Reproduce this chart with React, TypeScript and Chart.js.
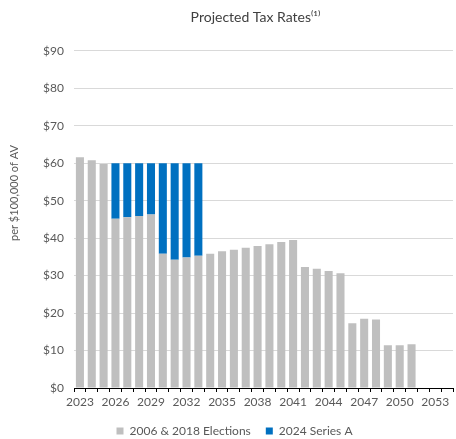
import React, { useEffect, useRef } from "react";
import { Chart, registerables } from "chart.js";

Chart.register(...registerables);

const years: string[] = [
  "2023", "2024", "2025", "2026", "2027", "2028", "2029", "2030", "2031", "2032",
  "2033", "2034", "2035", "2036", "2037", "2038", "2039", "2040", "2041", "2042",
  "2043", "2044", "2045", "2046", "2047", "2048", "2049", "2050", "2051", "2052",
  "2053", "2054",
];

const elections2006And2018: number[] = [
  61.6, 60.8, 59.8, 45.2, 45.6, 45.9, 46.3, 35.8, 34.2, 34.8,
  35.3, 35.8, 36.5, 36.9, 37.4, 37.9, 38.4, 39.0, 39.5, 32.3,
  31.8, 31.2, 30.6, 17.3, 18.5, 18.3, 11.4, 11.4, 11.7, 0,
  0, 0,
];

const series2024A: number[] = [
  0, 0, 0, 14.8, 14.4, 14.1, 13.7, 24.2, 25.8, 25.2,
  24.7, 0, 0, 0, 0, 0, 0, 0, 0, 0,
  0, 0, 0, 0, 0, 0, 0, 0, 0, 0,
  0, 0,
];

const yTicks: number[] = [0, 10, 20, 30, 40, 50, 60, 70, 80, 90];

const FONT = "Lato, 'Liberation Sans', sans-serif";
const TEXT = "#595959";

const yTitlePlugin = {
  id: "yTitle",
  afterLayout(chart: any) {
    const t = chart.titleBlock;
    if (t) {
      t.left -= 8;
      t.right -= 8;
    }
  },
  afterDraw(chart: any) {
    const ctx = chart.ctx;
    ctx.save();
    ctx.translate(14, 193);
    ctx.rotate(-Math.PI / 2);
    ctx.font = `11px ${FONT}`;
    ctx.fillStyle = TEXT;
    ctx.textAlign = "center";
    ctx.textBaseline = "middle";
    ctx.fillText("per $100,000 of AV", 0, 0);
    ctx.restore();
  },
};

export default function App() {
  const ref = useRef<HTMLCanvasElement | null>(null);

  useEffect(() => {
    if (!ref.current) return;
    const chart = new Chart(ref.current, {
      type: "bar",
      data: {
        labels: years,
        datasets: [
          {
            label: "2006 & 2018 Elections",
            data: elections2006And2018,
            backgroundColor: "#bfbfbf",
            barPercentage: 0.68,
            categoryPercentage: 1,
          },
          {
            label: "2024 Series A",
            data: series2024A,
            backgroundColor: "#0070c0",
            barPercentage: 0.68,
            categoryPercentage: 1,
          },
        ],
      },
      options: {
        responsive: false,
        animation: false,
        layout: { padding: { left: 16, right: 3, top: 0, bottom: -8 } },
        plugins: {
          title: {
            display: true,
            fullSize: false,
            text: "Projected Tax Rates⁽¹⁾",
            color: "#404040",
            font: { family: FONT, size: 14, weight: "normal" },
            padding: { top: 9, bottom: 25 },
          },
          legend: {
            position: "bottom",
            labels: {
              boxWidth: 7,
              boxHeight: 7,
              padding: 15,
              color: TEXT,
              font: { family: FONT, size: 12 },
            },
          },
          tooltip: { enabled: false },
        },
        scales: {
          x: {
            stacked: true,
            offset: true,
            grid: {
              display: true,
              drawOnChartArea: false,
              drawTicks: true,
              tickLength: 4,
              color: "#000",
              offset: true,
            },
            border: { display: true, color: "#000", width: 1 },
            ticks: {
              autoSkip: false,
              maxRotation: 0,
              padding: 3,
              color: TEXT,
              font: { family: FONT, size: 12 },
              callback: (_v: any, i: number) => (i % 3 === 0 ? years[i] : ""),
            },
            afterFit: (s: any) => {
              s.height = 22;
            },
          },
          y: {
            stacked: true,
            min: 0,
            max: 90,
            afterBuildTicks: (s: any) => {
              s.ticks = yTicks.map((v) => ({ value: v }));
            },
            grid: { color: "#d9d9d9", drawTicks: false },
            border: { display: false },
            ticks: {
              padding: 10,
              color: TEXT,
              font: { family: FONT, size: 12 },
              callback: (v: any) => `$${v}`,
            },
            afterFit: (s: any) => {
              s.width = 58;
            },
          },
        },
      },
      plugins: [yTitlePlugin],
    });
    return () => chart.destroy();
  }, []);

  return (
    <div style={{ position: "absolute", left: 0, top: 0, width: 456, height: 439, background: "#fff" }}>
      <canvas ref={ref} width={456} height={439} style={{ display: "block" }} />
    </div>
  );
}
